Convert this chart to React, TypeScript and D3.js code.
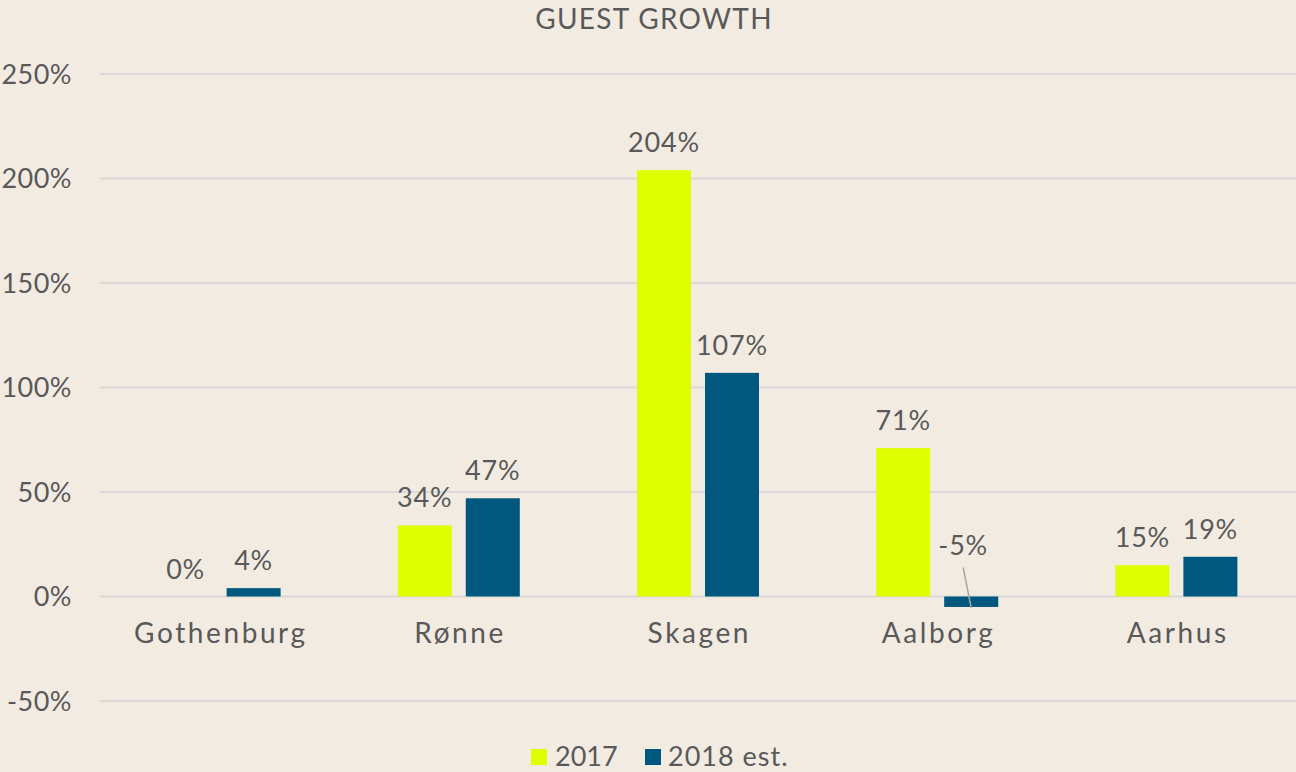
import React, { useLayoutEffect } from "react";
import * as d3 from "d3";

const categories = ["Gothenburg", "Rønne", "Skagen", "Aalborg", "Aarhus"];
const series2017 = [0, 34, 204, 71, 15];
const series2018 = [4, 47, 107, -5, 19];
const seriesNames = ["2017", "2018 est."];
const yTicks = [-50, 0, 50, 100, 150, 200, 250];

const W = 1296;
const H = 772;
const BG = "#F2EBE2";
const GREEN = "#DDFF00";
const BLUE = "#00587E";
const TEXT = "#595959";
const GRID = "#D9D9D9";
const FONT = "Lato, 'DejaVu Sans', sans-serif";

export default function App() {
  useLayoutEffect(() => {
    document.body.style.margin = "0";
    document.body.style.background = BG;
  }, []);

  const x = d3.scaleBand<string>().domain(categories).range([100, 1296]);
  const y = d3.scaleLinear().domain([-50, 250]).range([701, 74]);
  const barW = 54;
  const gap = 14;
  const fmt = (v: number) => `${v}%`;

  const series = [
    { name: seriesNames[0], values: series2017, color: GREEN, offset: -gap / 2 - barW },
    { name: seriesNames[1], values: series2018, color: BLUE, offset: gap / 2 },
  ];

  return (
    <svg width={W} height={H} style={{ display: "block", background: BG }}>
      <rect x={0} y={0} width={W} height={H} fill={BG} />
      <text x={654} y={29} textAnchor="middle" fill={TEXT} fontFamily={FONT} fontSize={28} letterSpacing={1.3}>
        GUEST GROWTH
      </text>
      {yTicks.map((t) => (
        <g key={t}>
          <line x1={100} x2={1296} y1={y(t)} y2={y(t)} stroke={GRID} strokeWidth={2} />
          <text x={72} y={y(t)} dy="0.36em" textAnchor="end" fill={TEXT} fontFamily={FONT} fontSize={27} letterSpacing={0.5}>
            {fmt(t)}
          </text>
        </g>
      ))}
      {series.map((s) =>
        s.values.map((v, i) => {
          const cx = (x(categories[i]) as number) + x.bandwidth() / 2;
          const bx = cx + s.offset;
          const top = Math.min(y(v), y(0));
          const h = Math.abs(y(v) - y(0));
          return (
            <g key={s.name + i}>
              <rect x={bx} y={top} width={barW} height={h} fill={s.color} />
            </g>
          );
        })
      )}
      {series.map((s) =>
        s.values.map((v, i) => {
          const cx = (x(categories[i]) as number) + x.bandwidth() / 2;
          const bcx = cx + s.offset + barW / 2;
          if (v < 0) {
            return (
              <g key={"l" + s.name + i}>
                <line x1={bcx - 8} y1={y(0) - 29} x2={bcx} y2={y(v) + 1} stroke="#A6A6A6" strokeWidth={1.5} />
                <text x={bcx - 8} y={y(0) - 42} textAnchor="middle" fill={TEXT} fontFamily={FONT} fontSize={27} letterSpacing={0.8}>
                  {fmt(v)}
                </text>
              </g>
            );
          }
          return (
            <text key={"l" + s.name + i} x={bcx} y={y(v) - 18} textAnchor="middle" fill={TEXT} fontFamily={FONT} fontSize={27} letterSpacing={0.8}>
              {fmt(v)}
            </text>
          );
        })
      )}
      {categories.map((c) => (
        <text key={c} x={(x(c) as number) + x.bandwidth() / 2 + 1.3} y={643} textAnchor="middle" fill={TEXT} fontFamily={FONT} fontSize={28} letterSpacing={2.6}>
          {c}
        </text>
      ))}
      <g>
        <rect x={531} y={749} width={16} height={16} fill={GREEN} />
        <text x={555} y={766} fill={TEXT} fontFamily={FONT} fontSize={27}>{seriesNames[0]}</text>
        <rect x={645} y={749} width={16} height={16} fill={BLUE} />
        <text x={668} y={766} fill={TEXT} fontFamily={FONT} fontSize={27} letterSpacing={1}>{seriesNames[1]}</text>
      </g>
    </svg>
  );
}
